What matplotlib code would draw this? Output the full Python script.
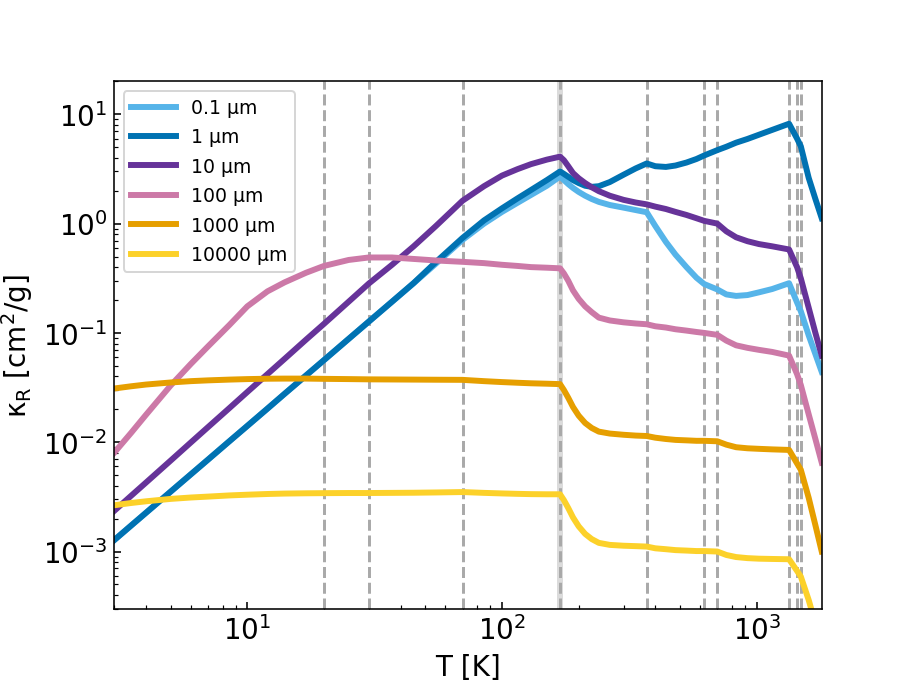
import matplotlib
matplotlib.use("Agg")
import matplotlib.pyplot as plt

# temperature grid [K]
T = [3, 3.5, 4, 5, 6, 7, 8.5, 10, 12, 14, 17, 20, 25, 30, 37, 45, 55, 70, 85, 100,
     115, 130, 150, 169, 175, 182, 190, 200, 212, 225, 240, 265, 300, 335, 370, 400,
     440, 480, 530, 580, 622, 700, 760, 830, 920, 1020, 1150, 1340, 1440, 1490, 1600,
     1700, 1800]

# Rosseland mean opacities [cm^2/g]
k_01um = [1.27e-3, 1.73e-3, 2.26e-3, 3.53e-3, 5.08e-3, 6.91e-3, 0.0102, 0.0141, 0.0203,
          0.0277, 0.0408, 0.0564, 0.0882, 0.127, 0.193, 0.285, 0.43, 0.71, 1.0, 1.28,
          1.55, 1.83, 2.22, 2.7, 2.5, 2.3, 2.12, 1.95, 1.8, 1.68, 1.58, 1.48, 1.4, 1.33,
          1.27, 0.95, 0.68, 0.52, 0.40, 0.32, 0.28, 0.25, 0.225, 0.218, 0.222, 0.235,
          0.252, 0.285, 0.19, 0.158, 0.095, 0.064, 0.044]
k_1um = [1.27e-3, 1.73e-3, 2.26e-3, 3.53e-3, 5.08e-3, 6.91e-3, 0.0102, 0.0141, 0.0203,
         0.0277, 0.0408, 0.0564, 0.0882, 0.127, 0.193, 0.286, 0.445, 0.74, 1.07, 1.38,
         1.7, 2.03, 2.5, 3.0, 2.85, 2.68, 2.5, 2.35, 2.22, 2.17, 2.2, 2.4, 2.8, 3.2,
         3.55, 3.35, 3.3, 3.4, 3.62, 3.9, 4.2, 4.7, 5.05, 5.5, 5.95, 6.5,
         7.2, 8.2, 6.0, 5.1, 2.62, 1.68, 1.12]
k_10um = [2.35e-3, 3.24e-3, 4.27e-3, 6.79e-3, 9.94e-3, 0.0137, 0.0205, 0.0288, 0.042,
          0.0578, 0.0867, 0.121, 0.193, 0.283, 0.42, 0.62, 0.95, 1.62, 2.2, 2.75,
          3.15, 3.5, 3.85, 4.1, 3.8, 3.35, 2.9, 2.6, 2.35, 2.15, 1.98, 1.8, 1.65, 1.56,
          1.5, 1.43, 1.36, 1.28, 1.2, 1.12, 1.06, 1.0, 0.85, 0.75, 0.69, 0.65,
          0.62, 0.58, 0.40, 0.316, 0.17, 0.10, 0.062]
k_100um = [8.0e-3, 0.0122, 0.0178, 0.033, 0.052, 0.075, 0.118, 0.175, 0.24,
           0.29, 0.355, 0.41, 0.465, 0.49, 0.49, 0.475, 0.46, 0.447, 0.435, 0.42,
           0.41, 0.40, 0.395, 0.39, 0.35, 0.30, 0.245, 0.205, 0.175, 0.155, 0.138, 0.13,
           0.125, 0.122, 0.12, 0.115, 0.112, 0.108, 0.105, 0.102, 0.10, 0.096, 0.085,
           0.077, 0.073, 0.07, 0.067, 0.062, 0.042, 0.0334, 0.018, 0.0107, 0.0065]
k_1000um = [0.031, 0.0325, 0.0337, 0.0352, 0.0362, 0.0368, 0.0374, 0.0378, 0.0381,
            0.0382, 0.0382, 0.038, 0.0378, 0.0376, 0.0375, 0.0374, 0.0373, 0.0372,
            0.0362, 0.0355, 0.035, 0.0346, 0.0343, 0.034, 0.030, 0.0255, 0.021, 0.0175,
            0.015, 0.0135, 0.0125, 0.012, 0.0117, 0.0115, 0.0114, 0.011, 0.0107, 0.0105,
            0.0104, 0.0103, 0.0103, 0.0102, 0.0095, 0.009, 0.0088, 0.0087, 0.0086,
            0.0085, 0.0064, 0.0056, 0.0031, 0.00174, 1.0e-3]
k_10000um = [2.65e-3, 2.78e-3, 2.88e-3, 3.03e-3, 3.12e-3, 3.18e-3, 3.26e-3, 3.31e-3,
             3.36e-3, 3.39e-3, 3.41e-3, 3.42e-3, 3.43e-3, 3.43e-3, 3.44e-3, 3.45e-3,
             3.47e-3, 3.5e-3, 3.44e-3, 3.4e-3, 3.37e-3, 3.35e-3, 3.34e-3, 3.34e-3,
             2.95e-3, 2.5e-3, 2.05e-3, 1.7e-3, 1.45e-3, 1.3e-3, 1.2e-3, 1.15e-3, 1.13e-3,
             1.12e-3, 1.11e-3, 1.07e-3, 1.05e-3, 1.03e-3, 1.02e-3, 1.01e-3, 1.01e-3,
             1.0e-3, 9.3e-4, 8.9e-4, 8.7e-4, 8.6e-4, 8.55e-4, 8.5e-4, 6.65e-4, 5.9e-4,
             3.6e-4, 2.2e-4, 1.35e-4]

sizes = ["0.1 µm", "1 µm", "10 µm", "100 µm", "1000 µm", "10000 µm"]
colors = ["#56B4E9", "#0072B2", "#663399", "#CC79A7", "#E69F00", "#FCD12A"]

# transition temperatures (dashed lines)
T_trans = [20, 30, 70, 169, 370, 622, 700, 1340, 1440, 1490]

fig, ax = plt.subplots(figsize=(6.4, 4.8), dpi=142.66)

ax.axvspan(164, 174, color="lightgray", alpha=0.8, lw=0)
for t in T_trans:
    ax.axvline(t, color="darkgray", ls="--", lw=1.5)

all_k = [k_01um, k_1um, k_10um, k_100um, k_1000um, k_10000um]
for k, lab, c in zip(all_k, sizes, colors):
    ax.loglog(T, k, color=c, lw=3, label=lab)

ax.set_xlim(3, 1800)
ax.set_ylim(3e-4, 20)
ax.set_xlabel("T [K]", fontsize=14)
ax.set_ylabel("κ$_\\mathrm{R}$ [cm$^2$/g]", fontsize=14)
ax.tick_params(which="both", direction="in", labelsize=14)
ax.legend(loc="upper left", fontsize=9.5, handlelength=2.4, labelspacing=0.55)

fig.savefig("out.png", dpi=142.66)
